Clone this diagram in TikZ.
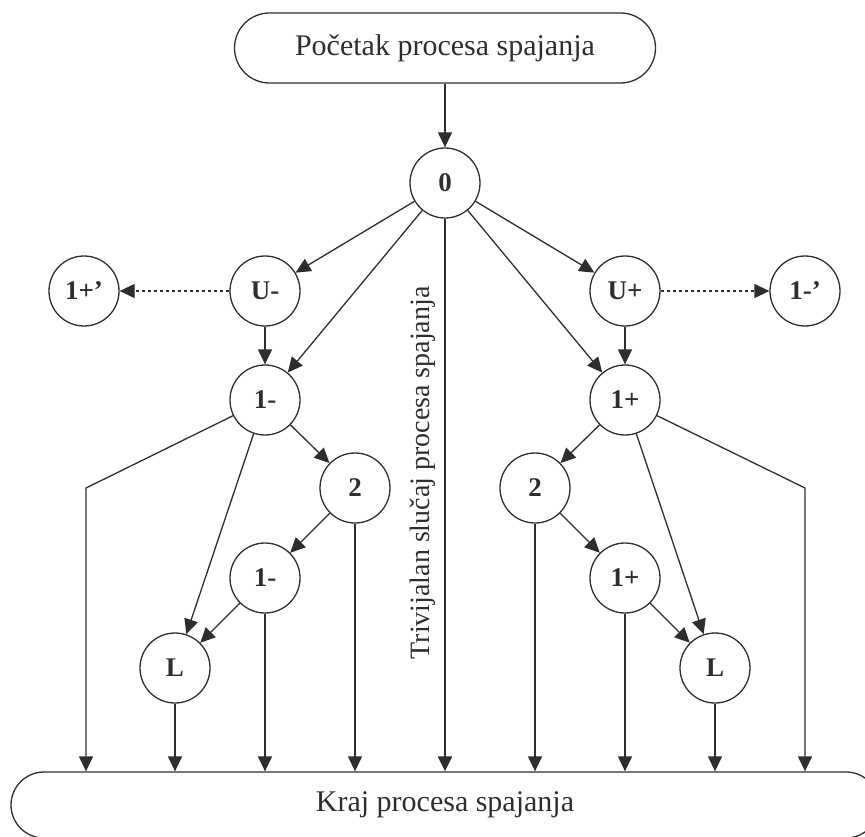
\documentclass[tikz,border=0pt]{standalone}
\usepackage{fontspec}
\setmainfont{Liberation Serif}
\usetikzlibrary{arrows.meta}
\definecolor{ink}{HTML}{2E2E2E}
\begin{document}
\begin{tikzpicture}[x=1pt,y=-1pt,
  state/.style={circle, draw=ink, line width=1.3pt, minimum size=70pt, inner sep=0pt,
    text=ink, font=\fontsize{27}{30}\selectfont\bfseries},
  terminal/.style={draw=ink, line width=1.3pt, inner sep=0pt, text=ink,
    font=\fontsize{30}{36}\selectfont},
  flow/.style={draw=ink, line width=1.3pt, -{Triangle[length=15pt,width=14pt]}},
  alt/.style={flow, dash pattern=on 3pt off 3pt},
  trivial/.style={flow, line width=2.4pt}]
\path[use as bounding box, clip] (0,0) rectangle (865,837);

% terminals
\node[terminal, rounded corners=35pt, minimum width=421pt, minimum height=70pt]
  (start) at (445,48) {Početak procesa spajanja};
\node[terminal, rounded corners=33pt, minimum width=868pt, minimum height=66pt]
  (end) at (445,805) {Kraj procesa spajanja};

% states
\node[state] (s0) at (445,183) {0};
\node[state] (um) at (265,291) {U-};
\node[state] (pq) at (84,291) {1+’};
\node[state] (up) at (625,291) {U+};
\node[state] (mq) at (805,291) {1-’};
\node[state] (ma) at (265,400) {1-};
\node[state] (pa) at (625,400) {1+};
\node[state] (tl) at (355,488) {2};
\node[state] (tr) at (535,488) {2};
\node[state] (mb) at (265,578) {1-};
\node[state] (pb) at (625,578) {1+};
\node[state] (ll) at (175,668) {L};
\node[state] (lr) at (715,668) {L};

% bends of the outer exits
\coordinate (kl) at (86,488);
\coordinate (kr) at (805,488);

% connectors
\draw[flow] (start) -- (s0);
\draw[flow] (s0) -- (um);
\draw[flow] (s0) -- (ma);
\draw[flow] (s0) -- (up);
\draw[flow] (s0) -- (pa);
\draw[trivial] (s0) -- (s0 |- end.north)
  node[pos=0.46, rotate=90, anchor=base, yshift=16pt, text=ink,
       font=\fontsize{28}{32}\selectfont] {Trivijalan slučaj procesa spajanja};

\draw[alt] (um) -- (pq);
\draw[alt] (up) -- (mq);
\draw[flow] (um) -- (ma);
\draw[flow] (up) -- (pa);

% left branch
\draw[flow] (ma) -- (kl) -- (kl |- end.north);
\draw[flow] (ma) -- (tl);
\draw[flow] (ma) -- (ll);
\draw[flow] (tl) -- (mb);
\draw[flow] (tl) -- (tl |- end.north);
\draw[flow] (mb) -- (ll);
\draw[flow] (mb) -- (mb |- end.north);
\draw[flow] (ll) -- (ll |- end.north);

% right branch
\draw[flow] (pa) -- (kr) -- (kr |- end.north);
\draw[flow] (pa) -- (tr);
\draw[flow] (pa) -- (lr);
\draw[flow] (tr) -- (pb);
\draw[flow] (tr) -- (tr |- end.north);
\draw[flow] (pb) -- (lr);
\draw[flow] (pb) -- (pb |- end.north);
\draw[flow] (lr) -- (lr |- end.north);
\end{tikzpicture}
\end{document}
